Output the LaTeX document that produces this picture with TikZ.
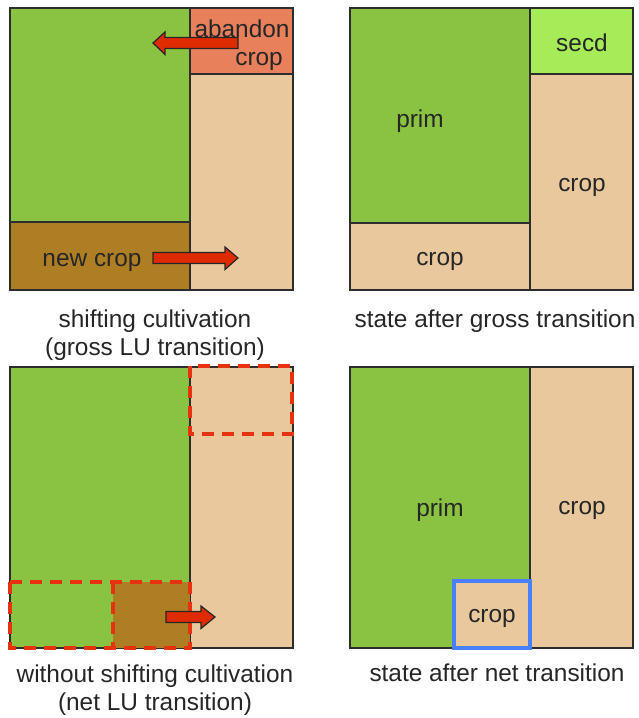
\documentclass[tikz,border=0pt]{standalone}
\usepackage{fontspec}
\setmainfont{Liberation Sans}
\definecolor{forestgreen}{RGB}{138,194,66}
\definecolor{secdgreen}{RGB}{166,236,88}
\definecolor{cropTan}{RGB}{234,200,157}
\definecolor{newBrown}{RGB}{173,126,36}
\definecolor{abandonSalmon}{RGB}{232,128,92}
\definecolor{arrowRed}{RGB}{222,44,0}
\definecolor{dashRed}{RGB}{230,50,14}
\definecolor{boxBlue}{RGB}{72,128,248}
\definecolor{edgeGray}{RGB}{45,45,45}
\tikzset{
  cell/.style={draw=edgeGray, line width=1.5pt},
  lbl/.style={inner sep=0pt, text=black!85, font=\fontsize{24.4}{28}\selectfont},
  captiontext/.style={inner sep=0pt, text=black!85, font=\fontsize{24.4}{28.5}\selectfont, align=center},
  blockarrow/.style={fill=arrowRed, draw=black!85, line width=1.2pt, line join=miter},
  dashbox/.style={draw=dashRed, line width=4pt, dash pattern=on 12pt off 8pt},
}
\begin{document}
\begin{tikzpicture}[x=1pt,y=-1pt]
\useasboundingbox (0,0) rectangle (639,718);
\fill[white] (0,0) rectangle (639,718);

% ---- shifting cultivation (top left)
\filldraw[cell, fill=forestgreen] (10,8) rectangle (190,222);
\filldraw[cell, fill=newBrown] (10,222) rectangle (190,290);
\filldraw[cell, fill=abandonSalmon] (190,8) rectangle (293,74);
\filldraw[cell, fill=cropTan] (190,74) rectangle (293,290);
\node[lbl] (abandon) at (242,29) {abandon};
\node[lbl, anchor=east] (abcrop) at (283,61) {crop};
\node[lbl] (newcrop) at (92,262) {new crop};
\draw[blockarrow] (238,37.5) -- (165,37.5) -- (165,32) -- (153,43) -- (165,54.5) -- (165,48.5) -- (238,48.5) -- cycle;
\draw[blockarrow] (153,252.5) -- (225,252.5) -- (225,247) -- (238,258) -- (225,269.5) -- (225,263.5) -- (153,263.5) -- cycle;
\node[captiontext] (cap1) at (155,335) {shifting cultivation\\(gross LU transition)};

% ---- state after gross transition (top right)
\filldraw[cell, fill=forestgreen] (350,8) rectangle (530,223);
\filldraw[cell, fill=cropTan] (350,223) rectangle (530,290);
\filldraw[cell, fill=secdgreen] (530,8) rectangle (633,74);
\filldraw[cell, fill=cropTan] (530,74) rectangle (633,290);
\node[lbl] (prim1) at (420,121) {prim};
\node[lbl] (secd) at (582,43) {secd};
\node[lbl] (crop1) at (582,187) {crop};
\node[lbl] (crop2) at (440,261) {crop};
\node[captiontext] (cap2) at (495,321) {state after gross transition};

% ---- without shifting cultivation (bottom left)
\filldraw[cell, fill=forestgreen] (10,367) rectangle (190,648);
\filldraw[cell, fill=cropTan] (190,367) rectangle (293,648);
\fill[newBrown] (113,582) rectangle (190,648);
\draw[dashbox] (190,366) rectangle (292,434);
\draw[dashbox] (10,582) rectangle (190,648);
\draw[dashbox] (113,582) -- (113,648);
\draw[blockarrow] (166,611.5) -- (201,611.5) -- (201,606) -- (215,617) -- (201,628.5) -- (201,622.5) -- (166,622.5) -- cycle;
\node[captiontext] (cap3) at (155,690) {without shifting cultivation\\(net LU transition)};

% ---- state after net transition (bottom right)
\filldraw[cell, fill=forestgreen] (350,367) rectangle (530,648);
\filldraw[cell, fill=cropTan] (530,367) rectangle (633,648);
\filldraw[draw=boxBlue, line width=4pt, fill=cropTan] (454,581) rectangle (530,648);
\node[lbl] (prim2) at (440,510) {prim};
\node[lbl] (crop3) at (582,510) {crop};
\node[lbl] (crop4) at (492,618) {crop};
\node[captiontext] (cap4) at (497,673) {state after net transition};
\end{tikzpicture}
\end{document}
